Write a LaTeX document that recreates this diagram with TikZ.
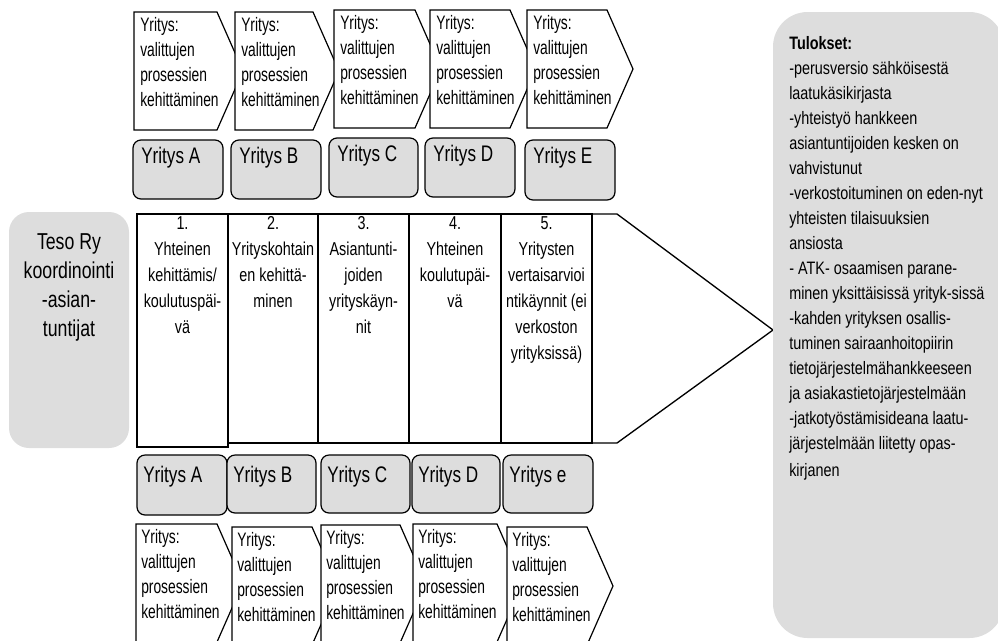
\documentclass[tikz,border=0pt]{standalone}
\usepackage{fontspec}
\setmainfont{Liberation Sans}
\newfontfamily\chevfont[FakeStretch=0.71]{Liberation Sans}
\newfontfamily\firmfont[FakeStretch=0.76]{Liberation Sans}
\newfontfamily\tesofont[FakeStretch=0.77]{Liberation Sans}
\newfontfamily\colfont[FakeStretch=0.77]{Liberation Sans}
\newfontfamily\resfont[FakeStretch=0.8]{Liberation Sans}
\definecolor{panel}{HTML}{DDDDDD}

\begin{document}
\begin{tikzpicture}[x=0.75pt,y=-0.75pt,line join=miter,
  chevshape/.style={draw=black,fill=white,line width=0.9pt},
  chevtext/.style={anchor=north west,inner sep=0pt,align=left,
    font=\chevfont\fontsize{14.6pt}{18.75pt}\selectfont},
  firm/.style={draw=black,fill=panel,line width=0.9pt,rounded corners=6pt},
  firmtext/.style={anchor=north west,inner sep=0pt,
    font=\firmfont\fontsize{16.9pt}{20pt}\selectfont},
  colbox/.style={draw=black,line width=1pt},
  coltext/.style={anchor=north,inner sep=0pt,align=center,
    font=\colfont\fontsize{14pt}{19.5pt}\selectfont},
  softpanel/.style={fill=panel,draw=none}]

\useasboundingbox (0,0) rectangle (998,640);

% upper row of process chevrons (each one hides the tip of the one before)
\foreach \i/\l/\r/\t in {1/134/217/12,2/235/313/12,3/334/415/10,4/430/510/10,5/527/607/10}{
  \draw[chevshape] (\l,\t) -- (\r,\t) -- (\r+26,\t+59) -- (\r,\t+118) -- (\l,\t+118) -- cycle;
  \node[chevtext] (up\i) at (\l+6,\t+5) {Yritys:\\valittujen\\prosessien\\kehittäminen};
}

% upper row of company boxes
\foreach \i/\l/\r/\t/\b/\name in {1/133/223/140/199/Yritys A,2/231/321/140/199/Yritys B,
    3/329/418/138/197/Yritys C,4/425/515/138/197/Yritys D,5/525/615/140/200/Yritys E}{
  \draw[firm] (\l,\t) rectangle (\r,\b);
  \node[firmtext] (fu\i) at (\l+8,\t+7) {\name};
}

% coordinating experts
\fill[softpanel,rounded corners=15pt] (9,212) rectangle (129,448);
\node[anchor=north,inner sep=0pt,align=center,
  font=\tesofont\fontsize{17.25pt}{21.75pt}\selectfont] (teso) at (69,233)
  {Teso Ry\\koordinointi\\-asian-\\tuntijat};

% phase arrow: head, then the five columns
\draw[colbox,fill=white] (592,214) -- (617,214) -- (773,330) -- (617,443) -- (592,443);
\draw[colbox] (228,214) rectangle (318,443);
\draw[colbox] (318,214) rectangle (409,443);
\draw[colbox] (409,214) rectangle (501,443);
\draw[colbox] (501,214) rectangle (592,443);
\draw[colbox] (137,214) rectangle (228,447);

\node[coltext] (ph1) at (182.5,216) {1.\\Yhteinen\\kehittämis/\\koulutuspäi-\\vä};
\node[coltext] (ph2) at (273,216) {2.\\Yrityskohtain\\en kehittä-\\minen};
\node[coltext] (ph3) at (363.5,216) {3.\\Asiantunti-\\joiden\\yrityskäyn-\\nit};
\node[coltext] (ph4) at (455,216) {4.\\Yhteinen\\koulutupäi-\\vä};
\node[coltext] (ph5) at (546.5,216) {5.\\Yritysten\\vertaisarvioi\\ntikäynnit (ei\\verkoston\\yrityksissä)};

% lower row of company boxes
\foreach \i/\l/\r/\t/\b/\name in {1/137/227/455/515/Yritys A,2/227/316/455/513/Yritys B,
    3/321/410/455/513/Yritys C,4/412/500/455/513/Yritys D,5/503/593/455/513/Yritys e}{
  \draw[firm] (\l,\t) rectangle (\r,\b);
  \node[firmtext] (fl\i) at (\l+6,\t+11) {\name};
}

% lower row of process chevrons
\foreach \i/\l/\r/\t in {1/136/217/524,2/232/312/527,3/321/400/525,4/413/497/524,5/507/587/527}{
  \draw[chevshape] (\l,\t) -- (\r,\t) -- (\r+26,\t+59) -- (\r,\t+118) -- (\l,\t+118) -- cycle;
  \node[chevtext] (lo\i) at (\l+5,\t+5) {Yritys:\\valittujen\\prosessien\\kehittäminen};
}

% results panel
\fill[softpanel,rounded corners=26pt] (773,12) rectangle (1004,638);
\node[anchor=north west,inner sep=0pt,align=left,
  font=\resfont\fontsize{13.5pt}{18.75pt}\selectfont] (res) at (789,36)
  {\textbf{Tulokset:}\\
   -perusversio sähköisestä\\
   laatukäsikirjasta\\
   -yhteistyö hankkeen\\
   asiantuntijoiden kesken on\\
   vahvistunut\\
   -verkostoituminen on eden-nyt\\
   yhteisten tilaisuuksien\\
   ansiosta\\
   - ATK- osaamisen parane-\\
   minen yksittäisissä yrityk-sissä\\
   -kahden yrityksen osallis-\\
   tuminen sairaanhoitopiirin\\
   tietojärjestelmähankkeeseen\\
   ja asiakastietojärjestelmään\\
   -jatkotyöstämisideana laatu-\\
   järjestelmään liitetty opas-\\[2pt]
   kirjanen};
\end{tikzpicture}
\end{document}
